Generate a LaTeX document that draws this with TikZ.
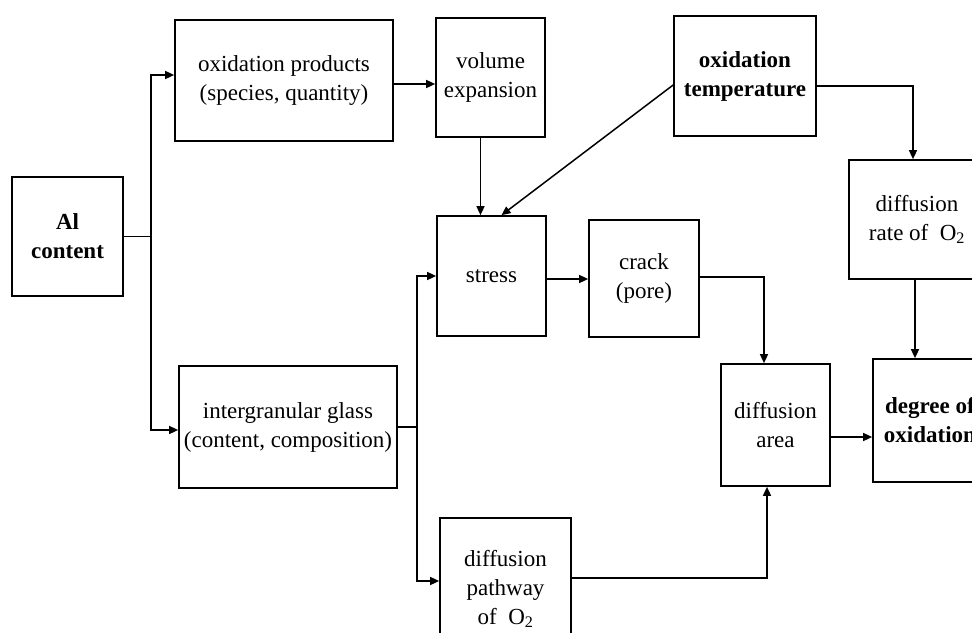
\documentclass[tikz,border=0pt]{standalone}
\usepackage{fontspec}
\setmainfont{Liberation Serif}
\usetikzlibrary{arrows.meta,positioning,calc}

\begin{document}
\begin{tikzpicture}[x=1pt,y=-1pt,>={Triangle[length=9pt,width=8pt]},
	box/.style={rectangle,draw,line width=1.7pt,align=center,inner sep=2pt,
		font=\fontsize{23}{29}\selectfont},
	bold box/.style={box,font=\fontsize{23}{29}\selectfont\bfseries},
	dims/.style 2 args={minimum width=#1pt,minimum height=#2pt},
	link/.style={->,line width=1.5pt}]

	\path[use as bounding box,clip] (0,0) rectangle (972,632);

	% left column
	\node[bold box,dims={111}{119}] (al) at (67.5,236.5) {Al\\content};
	\node[box,dims={218}{121}] (prod) at (284,80.5) {oxidation products\\(species, quantity)};
	\node[box,dims={218}{122}] (glass) at (288,427) {intergranular glass\\(content, composition)};

	% middle
	\node[box,dims={109}{119}] (vol) at (490.5,77.5) {volume\\expansion};
	\node[box,dims={109}{120}] (stress) at (491.5,276) {stress};
	\node[box,dims={110}{117}] (crack) at (644,278.5) {crack\\(pore)};
	\node[box,dims={131}{142}] (path) at (505.5,589) {diffusion\\pathway\\of~~O\textsubscript{2}};

	% right
	\node[bold box,dims={142}{120}] (temp) at (745,76) {oxidation\\temperature};
	\node[box,dims={136}{119}] (rate) at (917,219.5) {diffusion\\rate of~~O\textsubscript{2}};
	\node[box,dims={109}{122}] (area) at (775.5,425) {diffusion\\area};
	\node[bold box,dims={114}{123}] (degree) at (930,420.5) {degree of\\oxidation};

	% Al content splits in two
	\draw[line width=1.5pt] (al.east) -- ++(27,0) coordinate (j1);
	\draw[link] (j1) |- ([yshift=5.5pt]prod.west);
	\draw[link] (j1) |- ([yshift=-3pt]glass.west);

	\draw[link] ([yshift=-3.5pt]prod.east) -- ([yshift=-3.5pt]prod.east -| vol.west);
	\draw[link] ([xshift=-10pt]vol.south) -- ([xshift=-10pt]vol.south |- stress.north);
	\draw[link] ([yshift=-9pt]temp.west) -- ([xshift=10pt]stress.north);
	\draw[link] ([yshift=-10pt]temp.east) -| ([xshift=-4pt]rate.north);
	\draw[link] ([yshift=-3pt]stress.east) -- ([yshift=-3pt]stress.east -| crack.west);
	\draw[link] ([yshift=1.5pt]crack.east) -| ([xshift=-11.5pt]area.north);
	\draw[link] ([xshift=-2pt]rate.south) -- ([xshift=-2pt]rate.south |- degree.north);
	\draw[link] ([yshift=-12pt]area.east) -- ([yshift=-12pt]area.east -| degree.west);

	% glass splits in two
	\draw[line width=1.5pt] (glass.east) -- ++(19,0) coordinate (j2);
	\draw[link] (j2) |- (stress.west);
	\draw[link] (j2) |- ([yshift=8pt]path.west);
	\draw[link] ([yshift=11pt]path.east) -| ([xshift=-8.5pt]area.south);

\end{tikzpicture}
\end{document}
